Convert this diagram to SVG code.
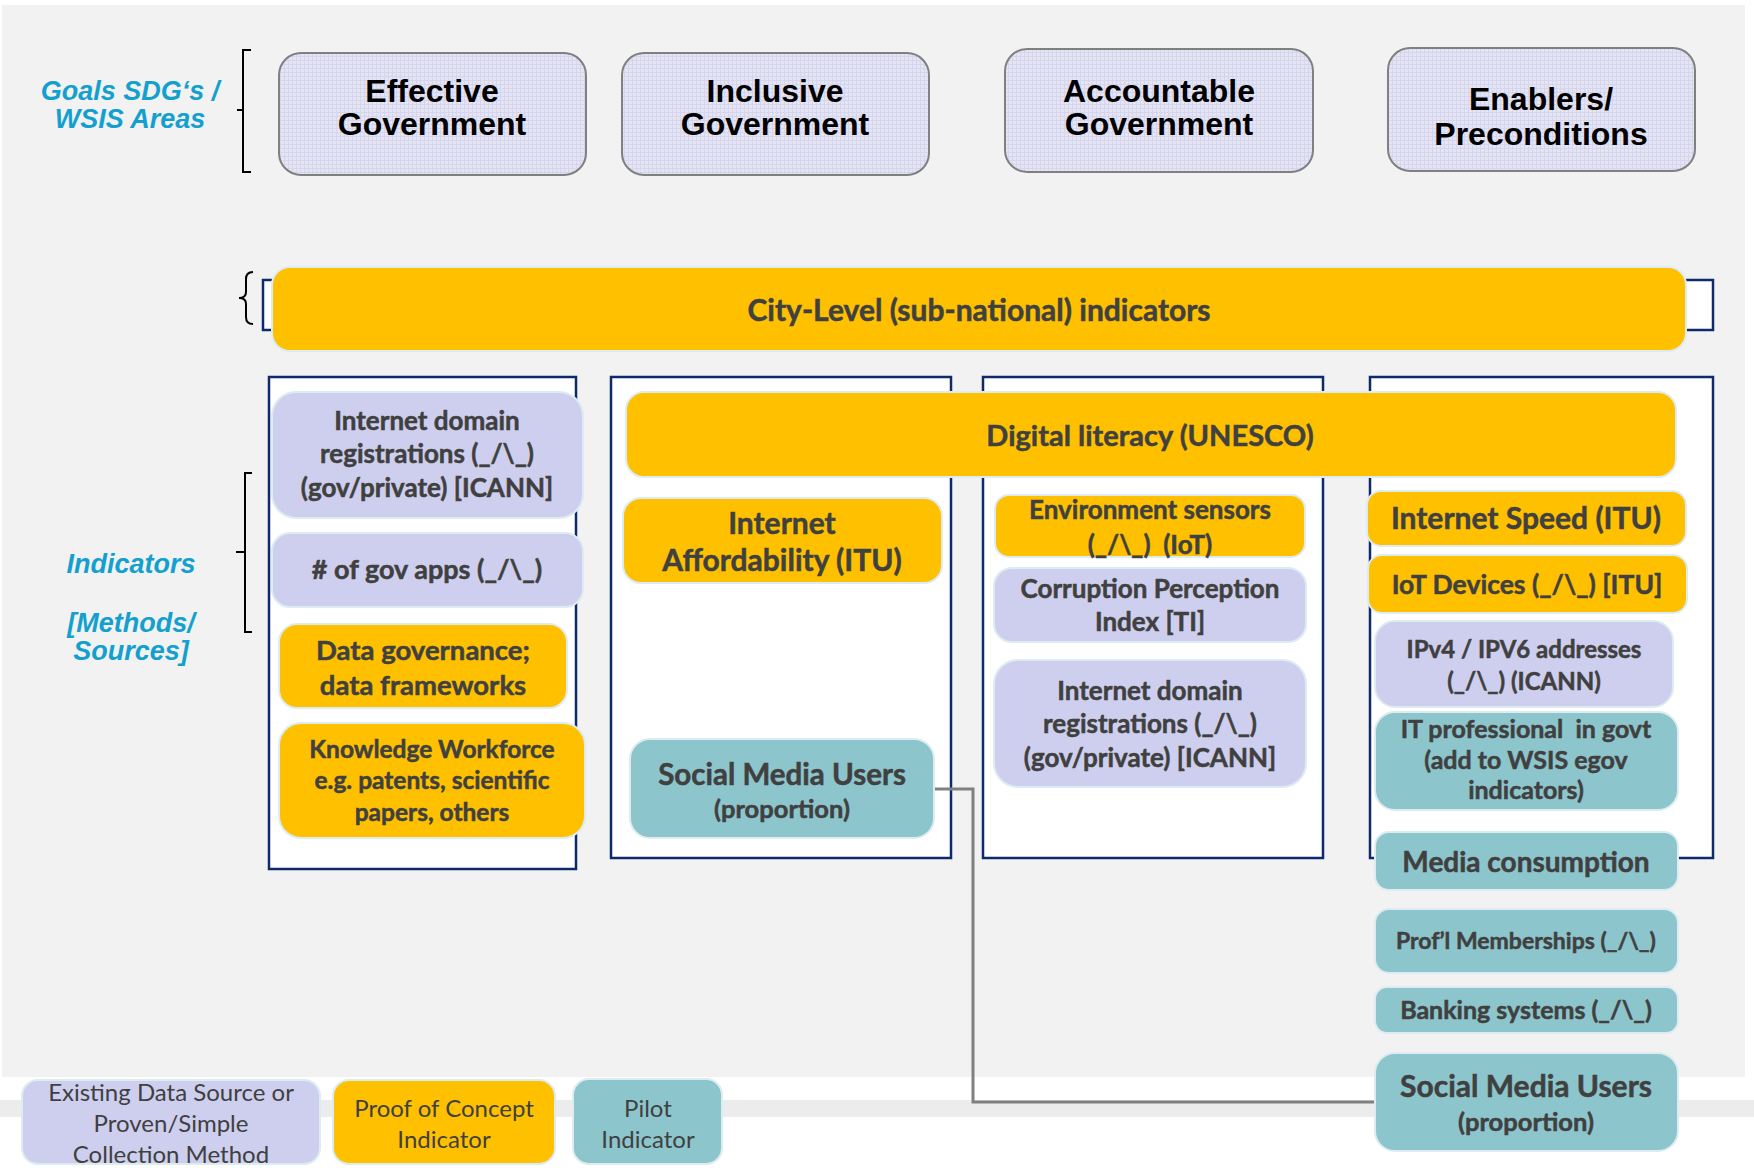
<svg xmlns="http://www.w3.org/2000/svg" width="1754" height="1168" viewBox="0 0 1754 1168">
<defs>
<pattern id="grid" width="4" height="4" patternUnits="userSpaceOnUse"><rect width="4" height="4" fill="#e4e4f4"/><path d="M0 0.5H4M0.5 0V4" stroke="#d5d5ec" stroke-width="1"/></pattern>
<style>
.hdr{fill:url(#grid);stroke:#808080;stroke-width:2}
.ht{font-family:"Liberation Sans",Arial,sans-serif;font-weight:bold;font-size:32px;fill:#000;text-anchor:middle}
.lab{font-family:"Liberation Sans",Arial,sans-serif;font-weight:bold;font-style:italic;font-size:27px;fill:#14a0cf;text-anchor:middle}
.br{fill:none;stroke:#000;stroke-width:2}
.frame{fill:#fff;stroke:#0f2a6b;stroke-width:2.5}
.lav{fill:#cecfee;stroke:#dcecf0;stroke-width:2}
.org{fill:#ffc000;stroke:#dcecf0;stroke-width:2}
.teal{fill:#8cc5cc;stroke:#dcecf0;stroke-width:2}
.t{font-family:Lato,"Open Sans",sans-serif;font-weight:bold;fill:#404040;stroke:#404040;stroke-width:0.5;text-anchor:middle}
.lg{font-family:Lato,"Open Sans",sans-serif;font-weight:normal;fill:#404040;text-anchor:middle;font-size:24px}
.conn{fill:none;stroke:#808080;stroke-width:3}
</style>
</defs>
<rect x="2" y="5" width="1743" height="1072" fill="#f2f2f2"/>
<rect x="0" y="1100" width="1754" height="17" fill="#ececec"/>

<g id="labels">
<text class="lab" x="130" y="100" font-size="28">Goals SDG‘s /</text>
<text class="lab" x="130" y="128" font-size="28">WSIS Areas</text>
<text class="lab" x="131" y="573">Indicators</text>
<text class="lab" x="131" y="632">[Methods/</text>
<text class="lab" x="131" y="660">Sources]</text>
<path class="br" d="M251,50 H243 V172 H251 M243,110 H237"/>
<path class="br" d="M253,272 Q246,272 246,279 V292 Q246,298 239,298 Q246,298 246,304 V317 Q246,324 253,324"/>
<path class="br" d="M252,473 H245 V632 H252 M245,552 H236"/>
</g>

<g id="goal-effective"><rect class="hdr" x="279" y="53" width="307" height="122" rx="22"/><text class="ht" x="432" y="102">Effective</text><text class="ht" x="432" y="135">Government</text></g>
<g id="goal-inclusive"><rect class="hdr" x="622" y="53" width="307" height="122" rx="22"/><text class="ht" x="775" y="102">Inclusive</text><text class="ht" x="775" y="135">Government</text></g>
<g id="goal-accountable"><rect class="hdr" x="1005" y="49" width="308" height="123" rx="22"/><text class="ht" x="1159" y="102">Accountable</text><text class="ht" x="1159" y="135">Government</text></g>
<g id="goal-enablers"><rect class="hdr" x="1388" y="48" width="307" height="123" rx="22"/><text class="ht" x="1541" y="110">Enablers/</text><text class="ht" x="1541" y="145">Preconditions</text></g>

<g id="city-level">
<rect class="frame" x="263" y="280" width="1450" height="50"/>
<rect class="org" x="272" y="267" width="1414" height="84" rx="18"/>
<text class="t" x="979" y="321" font-size="30">City-Level (sub-national) indicators</text>
</g>

<g id="frames">
<rect class="frame" x="269" y="377" width="307" height="492"/>
<rect class="frame" x="611" y="377" width="340" height="481"/>
<rect class="frame" x="983" y="377" width="340" height="481"/>
<rect class="frame" x="1370" y="377" width="343" height="481"/>
</g>

<g id="connectors">
<path class="conn" d="M935,789 H973 V1102 H1375"/>
</g>

<g id="c1-domain"><rect class="lav" x="272" y="392" width="311" height="126" rx="24"/><text class="t" font-size="26" x="427" y="430">Internet domain</text><text class="t" font-size="26" x="427" y="463">registrations (_/\_)</text><text class="t" font-size="26" x="427" y="497">(gov/private) [ICANN]</text></g>
<g id="c1-apps"><rect class="lav" x="272" y="533" width="311" height="74" rx="18"/><text class="t" font-size="27" x="427" y="579">#&#160;of gov apps (_/\_)</text></g>
<g id="c1-datagov"><rect class="org" x="279" y="624" width="288" height="84" rx="18"/><text class="t" font-size="27.5" x="423" y="660">Data governance;</text><text class="t" font-size="27.5" x="423" y="695">data frameworks</text></g>
<g id="c1-knowledge"><rect class="org" x="279" y="723" width="306" height="115" rx="22"/><text class="t" font-size="24.5" x="432" y="758">Knowledge Workforce</text><text class="t" font-size="24.5" x="432" y="789">e.g. patents, scientific</text><text class="t" font-size="24.5" x="432" y="821">papers, others</text></g>

<g id="digital-literacy"><rect class="org" x="626" y="392" width="1050" height="85" rx="18"/><text class="t" font-size="29" x="1150" y="446">Digital literacy (UNESCO)</text></g>

<g id="c2-afford"><rect class="org" x="623" y="498" width="319" height="85" rx="18"/><text class="t" font-size="30" x="782" y="534">Internet</text><text class="t" font-size="30" x="782" y="571">Affordability (ITU)</text></g>
<g id="c2-social"><rect class="teal" x="630" y="739" width="304" height="99" rx="20"/><text class="t" font-size="29.5" x="782" y="785">Social Media Users</text><text class="t" font-size="25.5" x="782" y="818">(proportion)</text></g>

<g id="c3-env"><rect class="org" x="995" y="495" width="310" height="62" rx="14"/><text class="t" font-size="26" x="1150" y="519">Environment sensors</text><text class="t" font-size="26" x="1150" y="554">(_/\_)&#160; (IoT)</text></g>
<g id="c3-cpi"><rect class="lav" x="994" y="568" width="312" height="74" rx="18"/><text class="t" font-size="26" x="1150" y="598">Corruption Perception</text><text class="t" font-size="26" x="1150" y="631">Index [TI]</text></g>
<g id="c3-domain"><rect class="lav" x="994" y="660" width="312" height="127" rx="24"/><text class="t" font-size="26" x="1150" y="700">Internet domain</text><text class="t" font-size="26" x="1150" y="733">registrations (_/\_)</text><text class="t" font-size="26" x="1150" y="767">(gov/private) [ICANN]</text></g>

<g id="c4-speed"><rect class="org" x="1367" y="491" width="319" height="55" rx="14"/><text class="t" font-size="30" x="1526" y="529">Internet Speed (ITU)</text></g>
<g id="c4-iot"><rect class="org" x="1368" y="555" width="319" height="58" rx="14"/><text class="t" font-size="26.5" x="1527" y="594">IoT Devices (_/\_) [ITU]</text></g>
<g id="c4-ip"><rect class="lav" x="1375" y="621" width="298" height="86" rx="20"/><text class="t" font-size="24" x="1524" y="658">IPv4 / IPV6 addresses</text><text class="t" font-size="24" x="1524" y="690">(_/\_) (ICANN)</text></g>
<g id="c4-itpro"><rect class="teal" x="1375" y="712" width="303" height="98" rx="20"/><text class="t" font-size="25" x="1526" y="738">IT professional&#160; in govt</text><text class="t" font-size="25" x="1526" y="769">(add to WSIS egov</text><text class="t" font-size="25" x="1526" y="799">indicators)</text></g>
<g id="c4-media"><rect class="teal" x="1375" y="832" width="303" height="58" rx="14"/><text class="t" font-size="28" x="1526" y="872">Media consumption</text></g>
<g id="c4-profl"><rect class="teal" x="1375" y="909" width="303" height="64" rx="14"/><text class="t" font-size="23" x="1526" y="949">Prof’l Memberships (_/\_)</text></g>
<g id="c4-banking"><rect class="teal" x="1375" y="987" width="303" height="46" rx="12"/><text class="t" font-size="25" x="1526" y="1019">Banking systems (_/\_)</text></g>
<g id="c4-social"><rect class="teal" x="1375" y="1053" width="303" height="98" rx="20"/><text class="t" font-size="30" x="1526" y="1097">Social Media Users</text><text class="t" font-size="25.5" x="1526" y="1131">(proportion)</text></g>

<g id="legend-existing"><rect class="lav" x="22" y="1080" width="298" height="84" rx="16"/><text class="lg" x="171" y="1101">Existing Data Source or</text><text class="lg" x="171" y="1132">Proven/Simple</text><text class="lg" x="171" y="1163">Collection Method</text></g>
<g id="legend-poc"><rect class="org" x="333" y="1080" width="222" height="84" rx="16"/><text class="lg" x="444" y="1117">Proof of Concept</text><text class="lg" x="444" y="1148">Indicator</text></g>
<g id="legend-pilot"><rect class="teal" x="573" y="1079" width="149" height="85" rx="16"/><text class="lg" x="648" y="1117">Pilot</text><text class="lg" x="648" y="1148">Indicator</text></g>
</svg>
